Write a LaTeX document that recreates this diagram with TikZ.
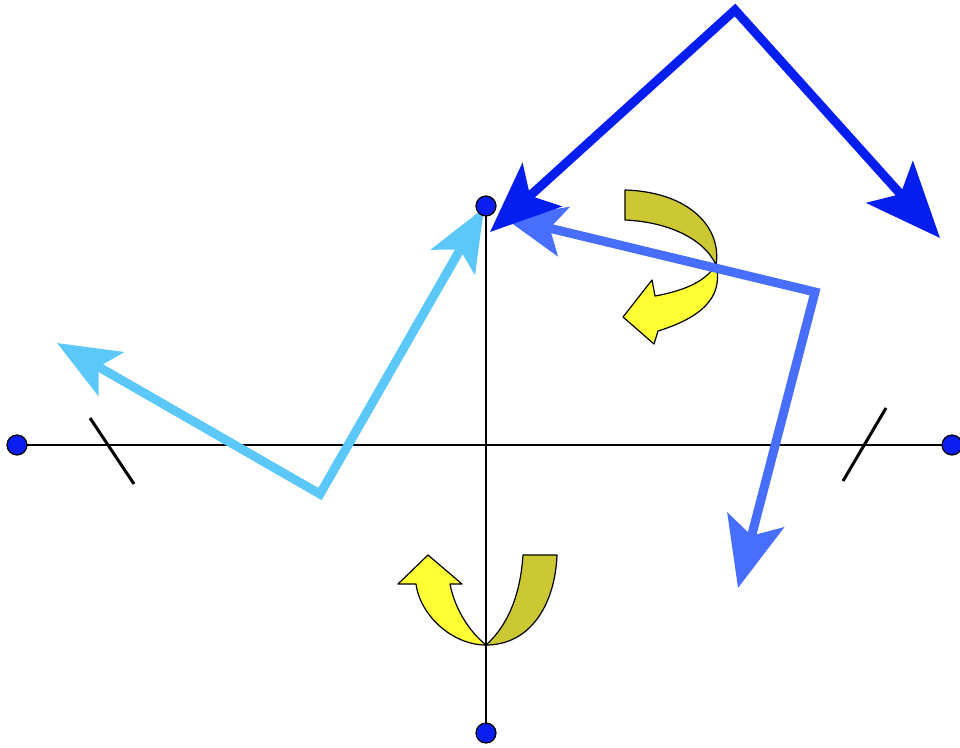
\documentclass[tikz,border=0pt]{standalone}
\usetikzlibrary{arrows.meta}
\definecolor{dblue}{RGB}{5,30,240}
\definecolor{mblue}{RGB}{72,110,255}
\definecolor{lblue}{RGB}{92,200,250}
\definecolor{olive}{RGB}{204,200,51}
\definecolor{yell}{RGB}{255,255,51}
\definecolor{dotblue}{RGB}{10,30,240}
\tikzset{
  axis/.style={line width=1.5pt, black},
  tick/.style={line width=3pt, black},
  dotnode/.style={circle, fill=dotblue, draw=black, line width=1.2pt, minimum size=20pt, inner sep=0pt},
  vec/.style={line width=9pt, line join=miter},
  ribbon/.style={draw=black, line width=1.2pt, line join=round},
}
\begin{document}
\begin{tikzpicture}[x=1pt,y=-1pt]
\useasboundingbox (0,0) rectangle (960,747);
% coordinates
\coordinate (L) at (17,445);
\coordinate (R) at (952,445);
\coordinate (T) at (486,206);
\coordinate (B) at (486,733);
% yellow curved arrows
\fill[olive] (625,190) -- (625,220) .. controls (670,222) and (705,240) .. (716,265) .. controls (722,228) and (690,192) .. (625,190) -- cycle;
\draw[ribbon] (625,190) -- (625,220) .. controls (670,222) and (705,240) .. (716,265) .. controls (722,228) and (690,192) .. (625,190) -- cycle;
\draw[ribbon, fill=yell] (716,265) .. controls (724,298) and (700,318) .. (658,331) -- (654,344) -- (623,317) -- (652,280) -- (655,296) .. controls (688,290) and (706,280) .. (716,265) -- cycle;
\draw[ribbon, fill=olive] (486,645) .. controls (530,645) and (555,605) .. (557,555) -- (523,555) .. controls (520,600) and (505,628) .. (486,645) -- cycle;
\draw[ribbon, fill=yell] (486,645) .. controls (452,645) and (420,615) .. (416,584) -- (398,584) -- (428,555) -- (462,584) -- (450,584) .. controls (455,610) and (470,632) .. (486,645) -- cycle;
% horizontal axis and ticks
\draw[axis] (L) -- (R);
\draw[tick] (90,418) -- (134,484);
\draw[tick] (886,408) -- (843,481);
% vectors
\draw[vec, lblue, {Stealth[length=62pt,width=50pt,inset=14pt]}-{Stealth[length=62pt,width=50pt,inset=14pt]}] (57,343) -- (320,494) -- (484,208);
\draw[vec, mblue, {Stealth[length=62pt,width=50pt,inset=14pt]}-{Stealth[length=70pt,width=58pt,inset=16pt]}] (503,217) -- (815,292) -- (738,588);
\draw[vec, dblue, {Stealth[length=70pt,width=58pt,inset=16pt]}-{Stealth[length=75pt,width=62pt,inset=16pt]}] (490,232) -- (735,10) -- (940,238);
% vertical axis
\draw[axis] (T) -- (B);
% dots
\node[dotnode] (l) at (L) {};
\node[dotnode] (r) at (R) {};
\node[dotnode] (t) at (T) {};
\node[dotnode] (b) at (B) {};
\end{tikzpicture}
\end{document}
